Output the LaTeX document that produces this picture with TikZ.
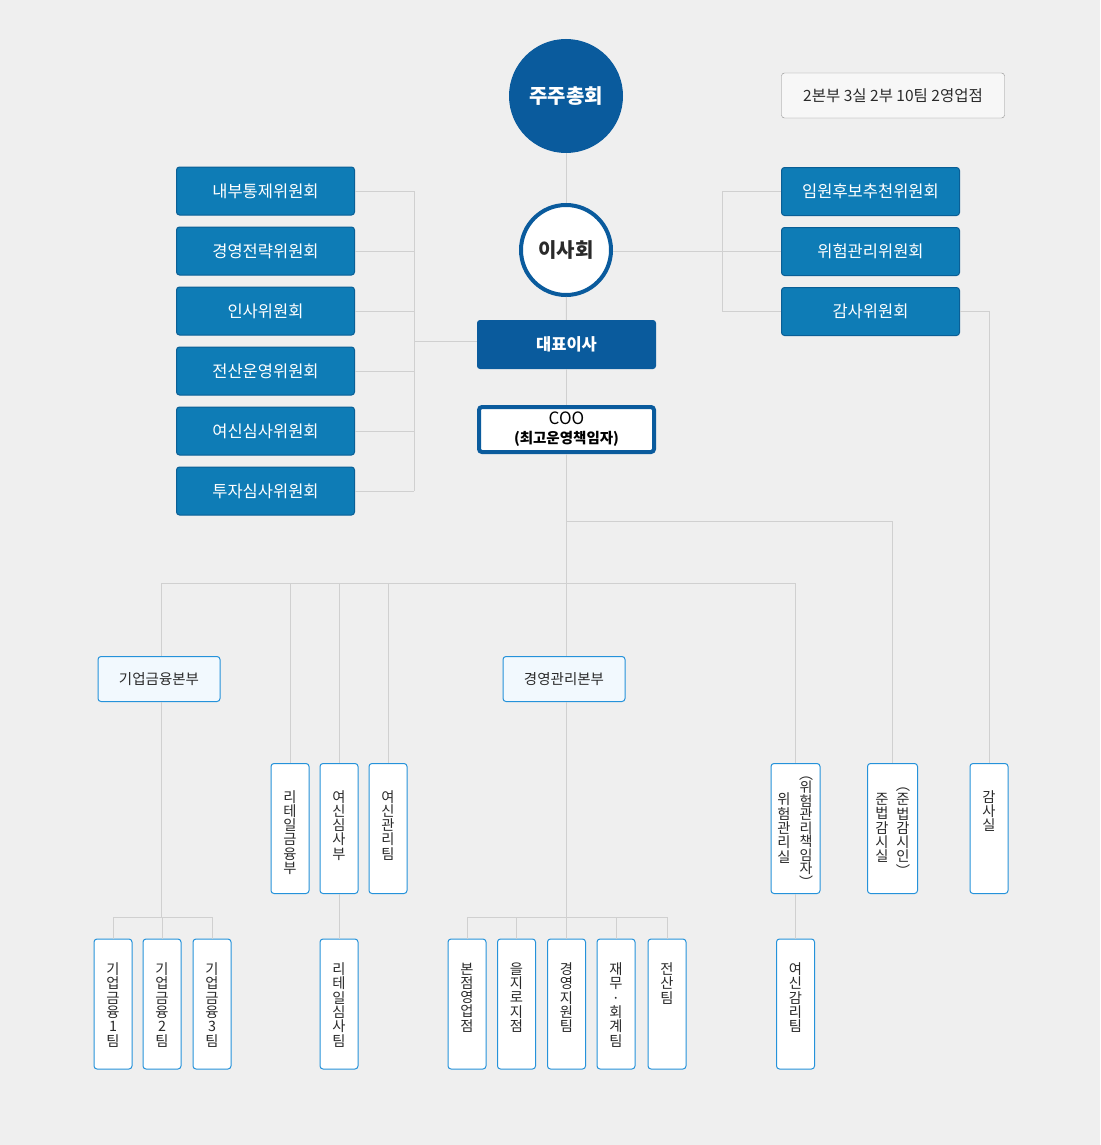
\documentclass[tikz,border=0pt]{standalone}
\usepackage{fontspec}
\setmainfont{Noto Sans CJK KR}
\usetikzlibrary{positioning}
\definecolor{navy}{HTML}{0A5B9D}
\definecolor{cblue}{HTML}{0E7CB6}
\definecolor{cedge}{HTML}{0A5F96}
\definecolor{sky}{HTML}{2592DA}
\definecolor{pale}{HTML}{F2F9FE}
\definecolor{bg}{HTML}{EFEFEF}
\definecolor{lgray}{HTML}{D0D0D0}
\definecolor{ink}{HTML}{2A2A2A}
\tikzstyle{l1}=[draw=lgray, line width=1pt]
\tikzstyle{comm}=[rectangle, rounded corners=3pt, fill=cblue, draw=cedge, line width=1pt, minimum width=178pt, minimum height=48pt, text=white, font=\fontsize{16.5}{18}\selectfont]
\tikzstyle{head}=[rectangle, rounded corners=3pt, fill=pale, draw=sky, line width=1pt, minimum width=122pt, minimum height=45pt, text=ink, font=\fontsize{14.5}{16}\selectfont]
\tikzstyle{unit}=[rectangle, rounded corners=3pt, fill=white, draw=sky, line width=1pt, minimum width=38pt, minimum height=130pt, inner sep=0pt]
\tikzstyle{vtxt}=[align=center, text=ink, inner sep=0pt, font=\fontsize{14.3}{14.3}\selectfont]

\begin{document}
\begin{tikzpicture}[x=1pt, y=-1pt]

    \fill[bg] (0,0) rectangle (1100,1145);
    \useasboundingbox (0,0) rectangle (1100,1145);

    \node[circle, fill=navy, minimum size=114pt, text=white, font=\bfseries\fontsize{20}{22}\selectfont] (gm) at (566,96) {주주총회};
    \node[rectangle, rounded corners=3pt, draw=black!45, fill=white!97!black, minimum width=223pt, minimum height=45pt, text=ink, font=\fontsize{15.5}{16}\selectfont] (sum) at (893,95.5) {2본부 3실 2부 10팀 2영업점};
    \node[circle, draw=navy, line width=4pt, fill=white, minimum size=90pt, text=ink, font=\bfseries\fontsize{20}{22}\selectfont] (bd) at (566,250) {이사회};
    \node[rectangle, rounded corners=3pt, fill=navy, minimum width=179pt, minimum height=49pt, text=white, font=\bfseries\fontsize{16.5}{18}\selectfont] (ceo) at (566.5,344.5) {대표이사};
    \node[rectangle, rounded corners=3pt, draw=navy, line width=4pt, fill=white, minimum width=175pt, minimum height=45pt, align=center, inner sep=0pt, text=black, font=\fontsize{17}{19}\selectfont] (coo) at (566.5,429.5) {COO\\{\bfseries\fontsize{14.5}{16}\selectfont (최고운영책임자)}};

    \foreach \t [count=\i] in {내부통제위원회, 경영전략위원회, 인사위원회, 전산운영위원회, 여신심사위원회, 투자심사위원회}{
        \node[comm] (l\i) at (265.5, 131+60*\i) {\t};
    }
    \foreach \t [count=\i] in {임원후보추천위원회, 위험관리위원회, 감사위원회}{
        \node[comm] (r\i) at (870.5, 131.5+60*\i) {\t};
    }

    \node[head] (cf) at (159,679) {기업금융본부};
    \node[head] (mg) at (564,679) {경영관리본부};

    \foreach \k/\x/\t in {rt/290/{리\\테\\일\\금\\융\\부}, cr/339/{여\\신\\심\\사\\부}, cm/388/{여\\신\\관\\리\\팀}, au/989/{감\\사\\실}}{
        \node[unit] (\k) at (\x,828.5) {};
        \node[vtxt, below=27pt of \k.north] (\k-t) {\t};
    }
    \node[unit, minimum width=49pt] (rm) at (795.5,828.5) {};
    \node[vtxt] (rm-a) at (784,828) {위\\험\\관\\리\\실};
    \node[vtxt, font=\fontsize{14}{13.5}\selectfont] (rm-b) at (806,832) {︵\\위\\험\\관\\리\\책\\임\\자\\︶};
    \node[unit, minimum width=50pt] (cp) at (892.5,828.5) {};
    \node[vtxt] (cp-a) at (882,828) {준\\법\\감\\시\\실};
    \node[vtxt] (cp-b) at (903,832) {︵\\준\\법\\감\\시\\인\\︶};

    \foreach \k/\x/\t in {t1/113/{기\\업\\금\\융\\1\\팀}, t2/162/{기\\업\\금\\융\\2\\팀}, t3/212/{기\\업\\금\\융\\3\\팀}, rs/339/{리\\테\\일\\심\\사\\팀}, m1/467/{본\\점\\영\\업\\점}, m2/516.5/{을\\지\\로\\지\\점}, m3/566.5/{경\\영\\지\\원\\팀}, m4/616/{재\\무\\·\\회\\계\\팀}, m5/667/{전\\산\\팀}, rc/795.5/{여\\신\\감\\리\\팀}}{
        \node[unit] (\k) at (\x,1004) {};
        \node[vtxt, below=24pt of \k.north] (\k-t) {\t};
    }

    \coordinate (lb) at (414,341);
    \coordinate (rb) at (722,252);
    \coordinate (j1) at (566.5,521);
    \coordinate (j2) at (566.5,583);
    \coordinate (j3) at (161,917);
    \coordinate (j4) at (566.5,917);

    \draw[l1] (gm) -- (bd);
    \draw[l1] (bd) -- (ceo);
    \draw[l1] (ceo) -- (coo);
    \draw[l1] (coo.south) -- (j2) -- (mg.north -| j2);
    \draw[l1] (mg.south -| j4) -- (m3.north);

    \foreach \i in {1,...,6}{
        \draw[l1] (l\i.east) -- (l\i.east -| lb);
    }
    \draw[l1] (l1.east -| lb) -- (l6.east -| lb);
    \draw[l1] (lb) -- (lb -| ceo.west);

    \foreach \i in {1,2,3}{
        \draw[l1] (r\i.west) -- (r\i.west -| rb);
    }
    \draw[l1] (r1.west -| rb) -- (r3.west -| rb);
    \draw[l1] (bd.east |- r2.west) -- (r2.west);
    \draw[l1] (r3.east) -| (au.north);

    \draw[l1] (j1) -| (cp.north);
    \draw[l1] (j2 -| j3) -- (j2 -| rm.north);
    \draw[l1] (j2 -| j3) -- (cf.north -| j3);
    \foreach \k in {rt, cr, cm, rm}{
        \draw[l1] (j2 -| \k.north) -- (\k.north);
    }

    \draw[l1] (cf.south -| j3) -- (j3);
    \draw[l1] (j3 -| t1.north) -- (j3 -| t3.north);
    \foreach \k in {t1, t2, t3}{
        \draw[l1] (j3 -| \k.north) -- (\k.north);
    }
    \draw[l1] (j4 -| m1.north) -- (j4 -| m5.north);
    \foreach \k in {m1, m2, m4, m5}{
        \draw[l1] (j4 -| \k.north) -- (\k.north);
    }
    \draw[l1] (cr.south) -- (rs.north);
    \draw[l1] (rm.south) -- (rc.north);

\end{tikzpicture}
\end{document}
